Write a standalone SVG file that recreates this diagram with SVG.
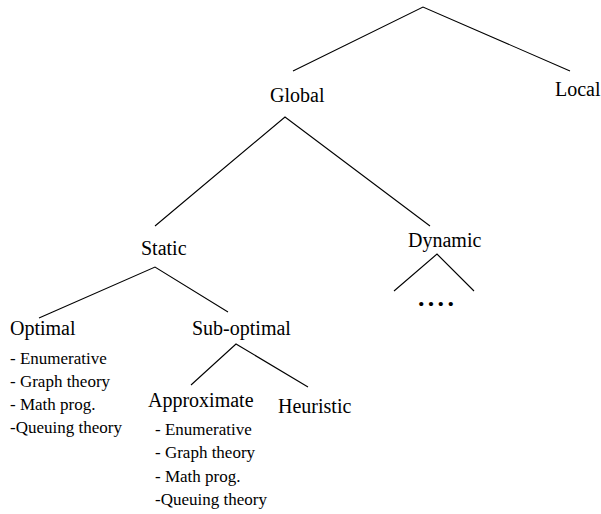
<svg xmlns="http://www.w3.org/2000/svg" width="601" height="514" viewBox="0 0 601 514">
  <style>
    .edge { stroke: #000; stroke-width: 1.1; fill: none; }
    .nm { font-size: 20px; fill: #000; font-family: 'Liberation Serif', serif !important; }
    .li { font-size: 17px; fill: #000; font-family: 'Liberation Serif', serif !important; }
    .dt { font-size: 26px; font-weight: bold; letter-spacing: 3.3px; fill: #000; font-family: 'Liberation Serif', serif !important; }
  </style>
  <rect width="601" height="514" fill="#fff"/>

  <g id="connectors">
    <polyline class="edge" points="293,71 423,7 570,71"/>
    <polyline class="edge" points="155,226 285,117 430,226"/>
    <polyline class="edge" points="39,318 155,267 228,312"/>
    <polyline class="edge" points="191,385 236,344 308,387"/>
    <polyline class="edge" points="394,291 437,254 474,291"/>
  </g>

  <g id="global"><text class="nm" style="font-family: 'Liberation Serif', serif !important" x="270" y="102">Global</text></g>
  <g id="local"><text class="nm" style="font-family: 'Liberation Serif', serif !important" x="555" y="96">Local</text></g>
  <g id="static"><text class="nm" style="font-family: 'Liberation Serif', serif !important" x="141" y="255">Static</text></g>
  <g id="dynamic"><text class="nm" style="font-family: 'Liberation Serif', serif !important" x="408" y="247">Dynamic</text></g>
  <g id="dynamic-more"><text class="dt" style="font-family: 'Liberation Serif', serif !important" x="418" y="306">....</text></g>

  <g id="optimal">
    <text class="nm" style="font-family: 'Liberation Serif', serif !important" x="10" y="335">Optimal</text>
    <text class="li" style="font-family: 'Liberation Serif', serif !important" x="10" y="364">- Enumerative</text>
    <text class="li" style="font-family: 'Liberation Serif', serif !important" x="10" y="387">- Graph theory</text>
    <text class="li" style="font-family: 'Liberation Serif', serif !important" x="10" y="410">- Math prog.</text>
    <text class="li" style="font-family: 'Liberation Serif', serif !important" x="10" y="433">-Queuing theory</text>
  </g>

  <g id="sub-optimal"><text class="nm" style="font-family: 'Liberation Serif', serif !important" x="192" y="335">Sub-optimal</text></g>

  <g id="approximate">
    <text class="nm" style="font-family: 'Liberation Serif', serif !important" x="148" y="407">Approximate</text>
    <text class="li" style="font-family: 'Liberation Serif', serif !important" x="155" y="435">- Enumerative</text>
    <text class="li" style="font-family: 'Liberation Serif', serif !important" x="155" y="458">- Graph theory</text>
    <text class="li" style="font-family: 'Liberation Serif', serif !important" x="155" y="482">- Math prog.</text>
    <text class="li" style="font-family: 'Liberation Serif', serif !important" x="155" y="505">-Queuing theory</text>
  </g>

  <g id="heuristic"><text class="nm" style="font-family: 'Liberation Serif', serif !important" x="278" y="413">Heuristic</text></g>
</svg>
